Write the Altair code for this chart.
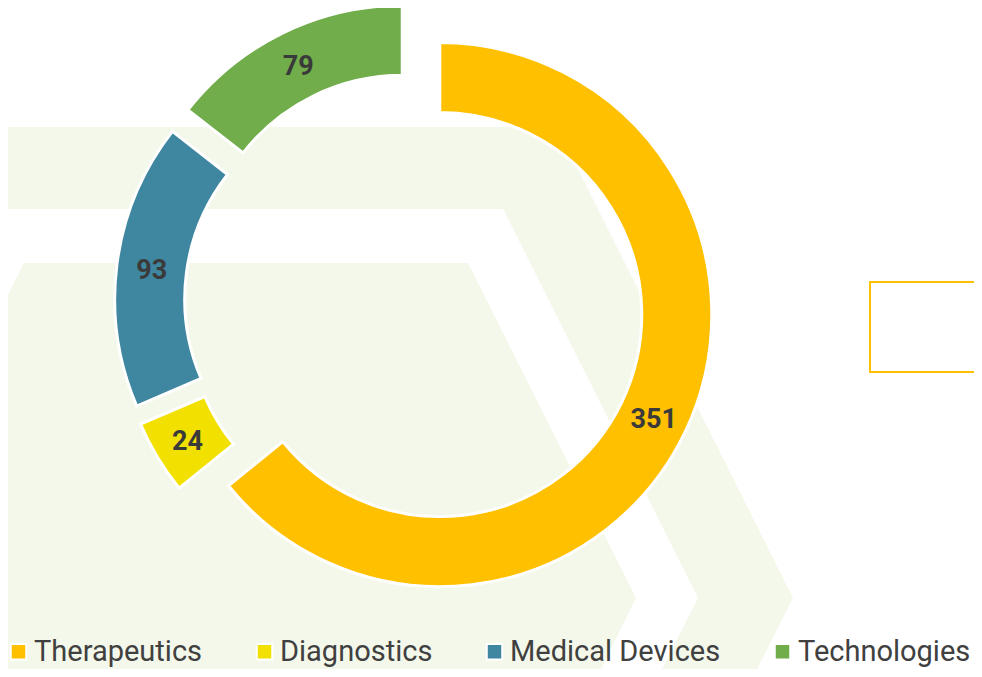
import altair as alt
import pandas as pd

# ---- data ----
categories = ["Therapeutics", "Diagnostics", "Medical Devices", "Technologies"]
values = [351, 24, 93, 79]
colors = ["#FFC000", "#F2E100", "#3F87A0", "#71AD4A"]

# ---- layout (page pixels) ----
M = 8                      # page margin
W, H = 966, 661
CX, CY = 414.5 - M, 302.5 - M   # donut centre before explode
EXPLODE = 28
R_OUT, R_IN = 272, 202
R_LABEL = (R_OUT + R_IN) / 2
BG = "#F4F8EA"

df = pd.DataFrame({"category": categories, "value": values, "order": list(range(len(values)))})

base = (
    alt.Chart(df)
    .transform_joinaggregate(total="sum(value)")
    .transform_window(cum="sum(value)", sort=[alt.SortField("order")], frame=[None, 0])
    .transform_calculate(t0="(datum.cum - datum.value) / datum.total * 2 * PI")
    .transform_calculate(t1="datum.cum / datum.total * 2 * PI")
    .transform_calculate(mid="(datum.t0 + datum.t1) / 2")
    .transform_calculate(px=f"{CX} + {EXPLODE} * sin(datum.mid)")
    .transform_calculate(py=f"{CY} - {EXPLODE} * cos(datum.mid)")
    .transform_calculate(lx=f"datum.px + {R_LABEL} * sin(datum.mid)")
    .transform_calculate(ly=f"datum.py - {R_LABEL} * cos(datum.mid)")
)

arcs = base.mark_arc(stroke="white", strokeWidth=3, radius=R_OUT, radius2=R_IN).encode(
    x=alt.X("px:Q", scale=None, axis=None),
    y=alt.Y("py:Q", scale=None, axis=None),
    theta=alt.Theta("t0:Q", scale=None, stack=False),
    theta2="t1:Q",
    color=alt.Color(
        "category:N",
        scale=alt.Scale(domain=categories, range=colors),
        sort=categories,
        legend=alt.Legend(
            orient="none", legendX=4 - M, legendY=637 - M,
            direction="horizontal", columns=4, title=None,
            labelFont="Roboto", labelFontSize=29, labelColor="#404040", labelLimit=0,
            symbolType="square", symbolSize=240, symbolStrokeColor="white",
            symbolStrokeWidth=2, labelOffset=1, columnPadding=47,
        ),
    ),
)

labels = base.mark_text(font="Roboto", fontSize=27, fontWeight="bold", color="#3a3a3a",
                        baseline="middle", dy=3).encode(
    x=alt.X("lx:Q", scale=None, axis=None),
    y=alt.Y("ly:Q", scale=None, axis=None),
    text="value:Q",
)

# ---- decorative background chevrons (page pixel outlines) ----
band_a = pd.DataFrame({"y": [127, 209], "x": [0, 0], "x2": [557, 598]})
diag_a = pd.DataFrame({"y": [209, 598, 677], "x": [503, 698, 658], "x2": [598, 793, 753]})
hex_b = pd.DataFrame({"y": [263, 311, 598, 677], "x": [24, 0, 0, 0], "x2": [468, 492, 636, 597]})

def deco(frame):
    f = frame.copy()
    for c in ("x", "x2", "y"):
        f[c] = f[c] - M
    return alt.Chart(f).mark_area(orient="horizontal", color=BG).encode(
        y=alt.Y("y:Q", scale=None, axis=None),
        x=alt.X("x:Q", scale=None, axis=None, stack=False),
        x2="x2:Q",
    )

box = alt.Chart(pd.DataFrame({"k": [0]})).mark_rect(
    fill="white", stroke="#FFC000", strokeWidth=2
).encode(
    x=alt.value(870 - M), x2=alt.value(1000), y=alt.value(282 - M), y2=alt.value(372 - M)
)

chart = alt.layer(deco(band_a), deco(diag_a), deco(hex_b), box, arcs, labels).properties(
    width=W, height=H, autosize=alt.AutoSizeParams(type="none"), padding=0
).configure_view(stroke=None)

chart.save("out.html", embed_options={"renderer": "svg", "actions": False})
